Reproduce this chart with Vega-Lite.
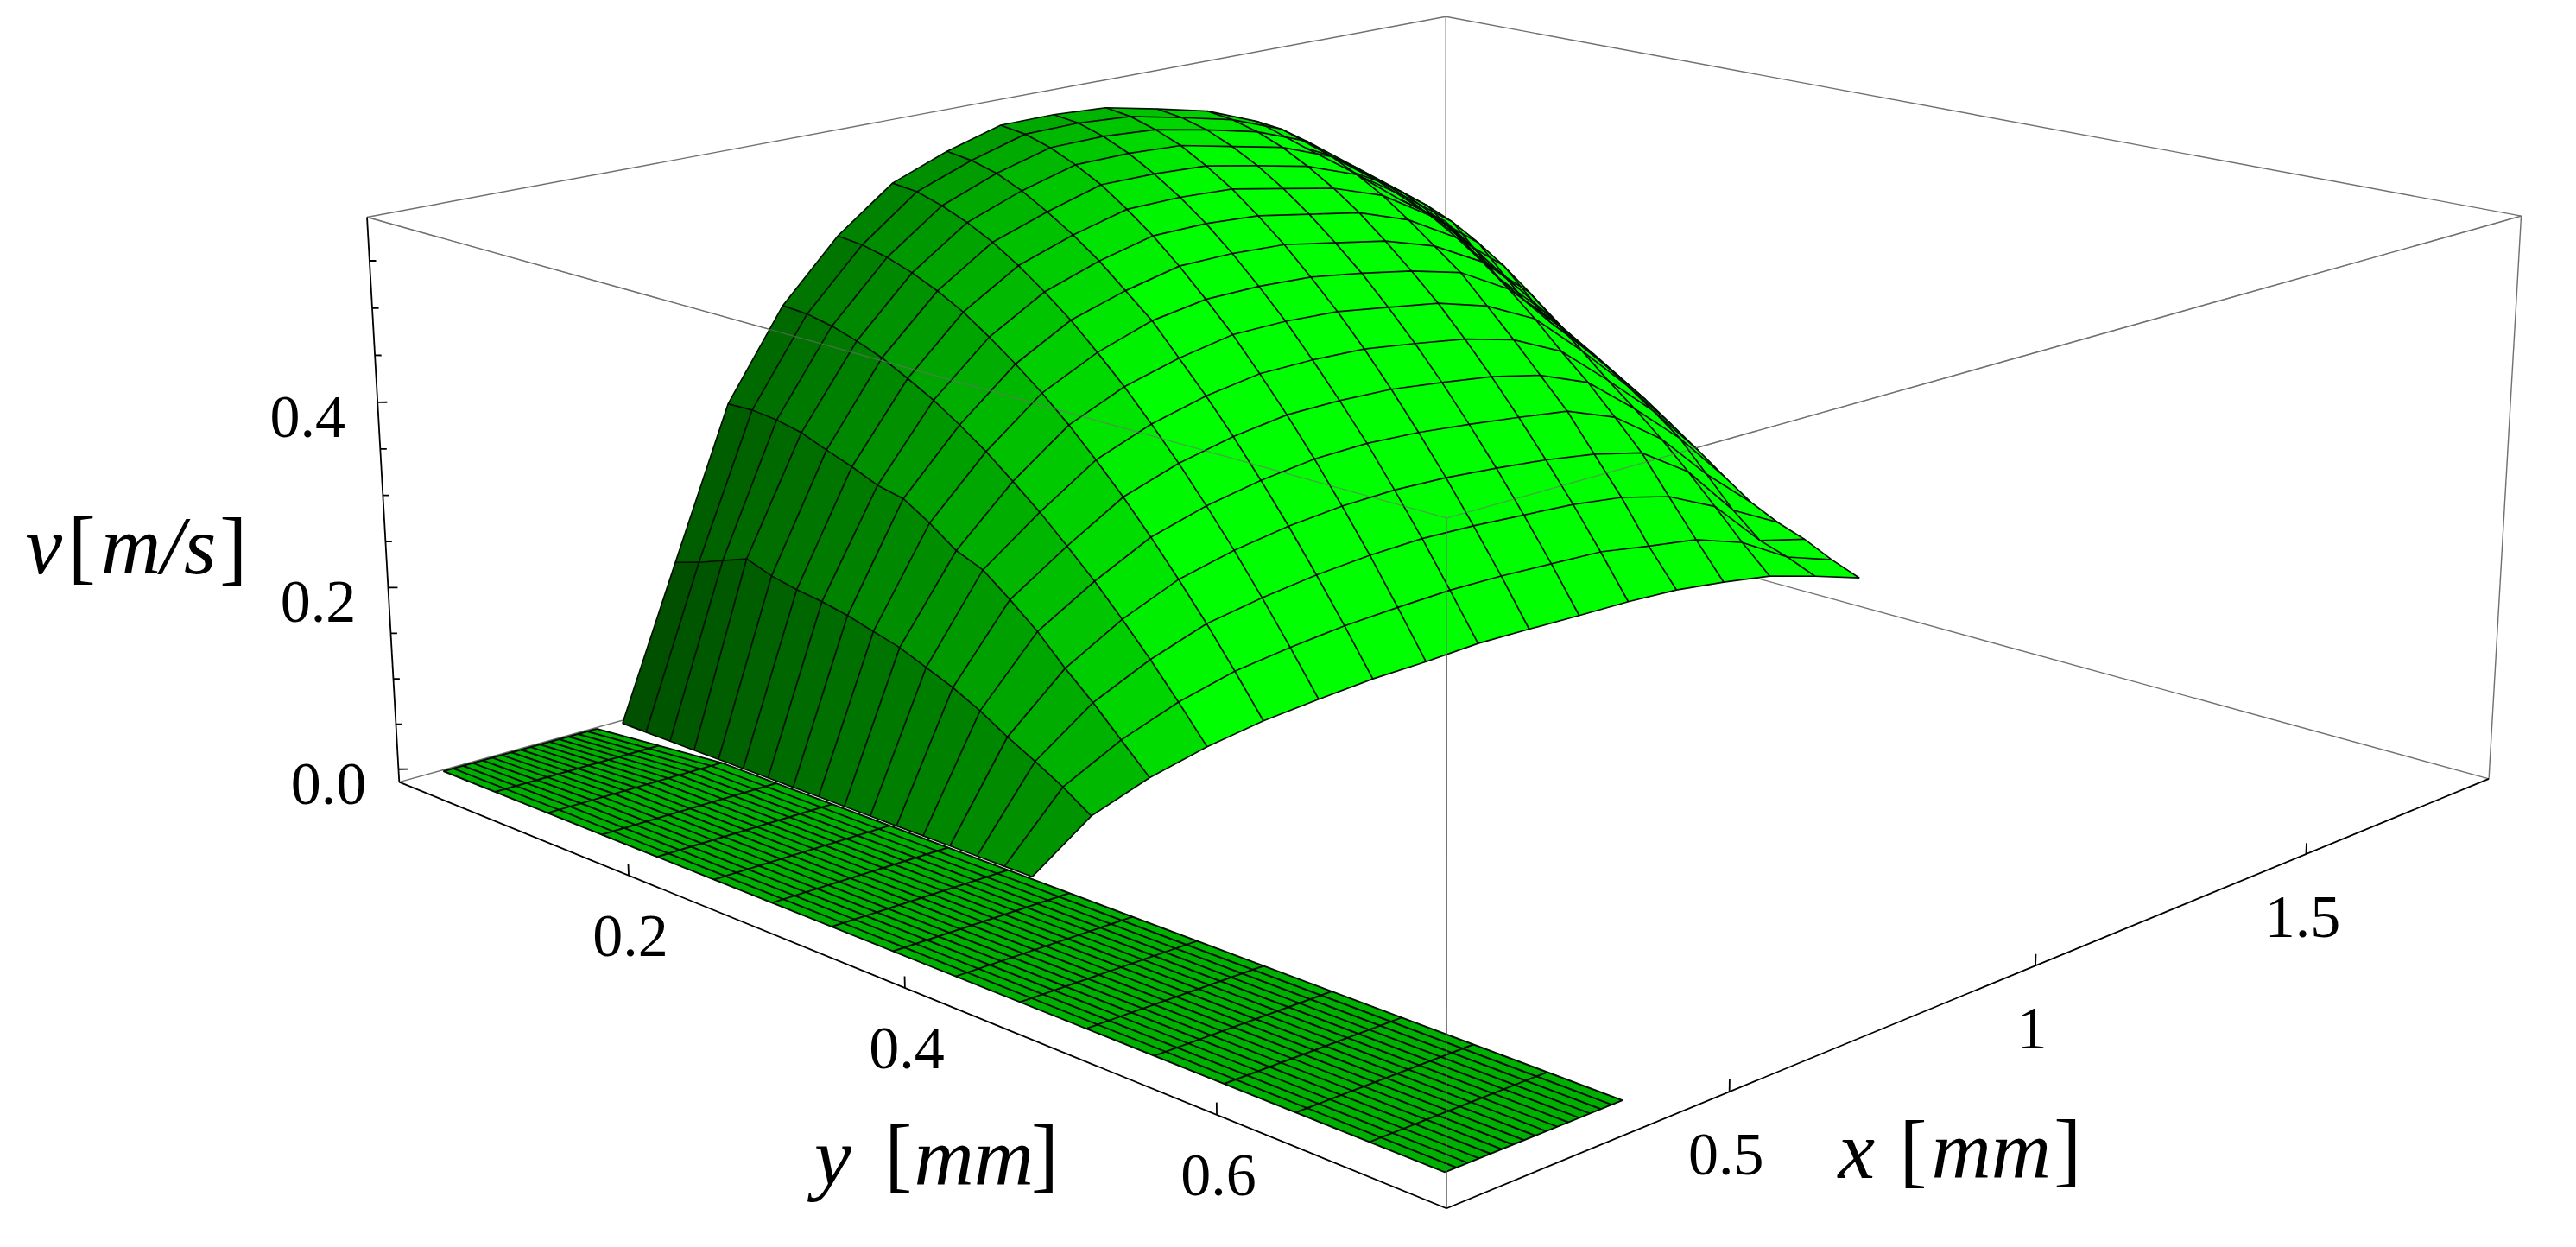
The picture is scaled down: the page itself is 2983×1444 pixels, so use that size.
{"$schema":"https://vega.github.io/schema/vega-lite/v6.json","width":2983,"height":1444,"padding":0,"autosize":{"type":"fit","contains":"padding"},"background":"white","config":{"view":{"stroke":null}},
"data":{"values":[
{"g":"fb","l":"1","x":0.0894,"y":0.0144,"v":0.5958},{"g":"fb","l":"1","x":1.874,"y":0.0144,"v":0.5958},
{"g":"fb","l":"2","x":1.874,"y":0.0144,"v":0.5958},{"g":"fb","l":"2","x":1.874,"y":0.7325,"v":0.5958},
{"g":"fb","l":"3","x":1.874,"y":0.0144,"v":0.5958},{"g":"fb","l":"3","x":1.874,"y":0.0144,"v":-0.0143},
{"g":"fb","l":"4","x":0.0894,"y":0.0144,"v":-0.0143},{"g":"fb","l":"4","x":1.874,"y":0.0144,"v":-0.0143},
{"g":"fb","l":"5","x":1.874,"y":0.0144,"v":-0.0143},{"g":"fb","l":"5","x":1.874,"y":0.7325,"v":-0.0143},
{"g":"fb","l":"6","x":1.874,"y":0.7325,"v":0.5958},{"g":"fb","l":"6","x":1.874,"y":0.7325,"v":-0.0143},
{"g":"fo","l":"7","x":0.0894,"y":0.0144,"v":0.5958},{"g":"fo","l":"7","x":0.0894,"y":0.7325,"v":0.5958},
{"g":"fo","l":"8","x":0.0894,"y":0.7325,"v":0.5958},{"g":"fo","l":"8","x":1.874,"y":0.7325,"v":0.5958},
{"g":"fo","l":"9","x":0.0894,"y":0.7325,"v":0.5958},{"g":"fo","l":"9","x":0.0894,"y":0.7325,"v":-0.0143},
{"g":"ax","l":"a1","x":0.0894,"y":0.0144,"v":-0.0143},{"g":"ax","l":"a1","x":0.0894,"y":0.0144,"v":0.5958},
{"g":"ax","l":"a2","x":0.0894,"y":0.0144,"v":-0.0143},{"g":"ax","l":"a2","x":0.0894,"y":0.7325,"v":-0.0143},
{"g":"ax","l":"a3","x":0.0894,"y":0.7325,"v":-0.0143},{"g":"ax","l":"a3","x":1.874,"y":0.7325,"v":-0.0143},
{"g":"ax","l":"y2","x":0.0894,"y":0.2,"v":-0.0143},{"g":"ax","l":"y2","x":0.0894,"y":0.2,"v":-0.0025},
{"g":"ax","l":"y4","x":0.0894,"y":0.4,"v":-0.0143},{"g":"ax","l":"y4","x":0.0894,"y":0.4,"v":-0.0025},
{"g":"ax","l":"y6","x":0.0894,"y":0.6,"v":-0.0143},{"g":"ax","l":"y6","x":0.0894,"y":0.6,"v":-0.0025},
{"g":"ax","l":"x5","x":0.5,"y":0.7325,"v":-0.0143},{"g":"ax","l":"x5","x":0.5,"y":0.7325,"v":-0.0025},
{"g":"ax","l":"x10","x":1,"y":0.7325,"v":-0.0143},{"g":"ax","l":"x10","x":1,"y":0.7325,"v":-0.0025},
{"g":"ax","l":"x15","x":1.5,"y":0.7325,"v":-0.0143},{"g":"ax","l":"x15","x":1.5,"y":0.7325,"v":-0.0025},
{"g":"ax","l":"v0","x":0.0894,"y":0.0144,"v":0},{"g":"ax","l":"v0","x":0.0974,"y":0.0176,"v":0},
{"g":"ax","l":"v05","x":0.0894,"y":0.0144,"v":0.05},{"g":"ax","l":"v05","x":0.0948,"y":0.0166,"v":0.05},
{"g":"ax","l":"v10","x":0.0894,"y":0.0144,"v":0.1},{"g":"ax","l":"v10","x":0.0948,"y":0.0166,"v":0.1},
{"g":"ax","l":"v15","x":0.0894,"y":0.0144,"v":0.15},{"g":"ax","l":"v15","x":0.0948,"y":0.0166,"v":0.15},
{"g":"ax","l":"v20","x":0.0894,"y":0.0144,"v":0.2},{"g":"ax","l":"v20","x":0.0974,"y":0.0176,"v":0.2},
{"g":"ax","l":"v25","x":0.0894,"y":0.0144,"v":0.25},{"g":"ax","l":"v25","x":0.0948,"y":0.0166,"v":0.25},
{"g":"ax","l":"v30","x":0.0894,"y":0.0144,"v":0.3},{"g":"ax","l":"v30","x":0.0948,"y":0.0166,"v":0.3},
{"g":"ax","l":"v35","x":0.0894,"y":0.0144,"v":0.35},{"g":"ax","l":"v35","x":0.0948,"y":0.0166,"v":0.35},
{"g":"ax","l":"v40","x":0.0894,"y":0.0144,"v":0.4},{"g":"ax","l":"v40","x":0.0974,"y":0.0176,"v":0.4},
{"g":"ax","l":"v45","x":0.0894,"y":0.0144,"v":0.45},{"g":"ax","l":"v45","x":0.0948,"y":0.0166,"v":0.45},
{"g":"ax","l":"v50","x":0.0894,"y":0.0144,"v":0.5},{"g":"ax","l":"v50","x":0.0948,"y":0.0166,"v":0.5},
{"g":"ax","l":"v55","x":0.0894,"y":0.0144,"v":0.55},{"g":"ax","l":"v55","x":0.0948,"y":0.0166,"v":0.55},
{"g":"lx","t":"0.5","x":0.5,"y":0.7325,"v":-0.0143},{"g":"lx","t":"1","x":1,"y":0.7325,"v":-0.0143},{"g":"lx","t":"1.5","x":1.5,"y":0.7325,"v":-0.0143},
{"g":"ly","t":"0.2","x":0.0894,"y":0.2,"v":-0.0143},{"g":"ly","t":"0.4","x":0.0894,"y":0.4,"v":-0.0143},{"g":"ly","t":"0.6","x":0.0894,"y":0.6,"v":-0.0143},
{"g":"lv","t":"0.0","x":0.0894,"y":0.0144,"v":0},{"g":"lv","t":"0.2","x":0.0894,"y":0.0144,"v":0.2},{"g":"lv","t":"0.4","x":0.0894,"y":0.0144,"v":0.4},
{"g":"ti","t":"y","x":-0.2558,"y":0.5249,"v":-0.0143},{"g":"tu","t":"[","x":-0.2049,"y":0.5409,"v":-0.0143},{"g":"ti","t":"mm","x":-0.1573,"y":0.5649,"v":-0.0143},{"g":"tu","t":"]","x":-0.1026,"y":0.5826,"v":-0.0143},
{"g":"ti","t":"x","x":0.4713,"y":0.8113,"v":-0.0143},{"g":"tu","t":"[","x":0.5142,"y":0.8264,"v":-0.0143},{"g":"ti","t":"mm","x":0.5657,"y":0.8497,"v":-0.0143},{"g":"tu","t":"]","x":0.6229,"y":0.8703,"v":-0.0143},
{"g":"ti","t":"v","x":0.3023,"y":-0.4618,"v":-0.0143},{"g":"tu","t":"[","x":0.3393,"y":-0.4468,"v":-0.0143},{"g":"ti","t":"m/s","x":0.4146,"y":-0.4164,"v":-0.0143},{"g":"tu","t":"]","x":0.4874,"y":-0.3866,"v":-0.0143},
{"g":"sp","o":0,"x":0.1233,"y":0.0323,"v":0},{"g":"sp","o":1,"x":0.348,"y":0.0323,"v":0},{"g":"sp","o":2,"x":0.3776,"y":0.118,"v":0},{"g":"sp","o":3,"x":0.3776,"y":0.718,"v":0},{"g":"sp","o":4,"x":0.1233,"y":0.718,"v":0},
{"g":"sl","l":"a0","x":0.1233,"y":0.0323,"v":0},{"g":"sl","l":"a0","x":0.1233,"y":0.118,"v":0},{"g":"sl","l":"a0","x":0.1233,"y":0.718,"v":0},
{"g":"sl","l":"a1","x":0.1373,"y":0.0323,"v":0},{"g":"sl","l":"a1","x":0.1392,"y":0.118,"v":0},{"g":"sl","l":"a1","x":0.1392,"y":0.718,"v":0},
{"g":"sl","l":"a2","x":0.1514,"y":0.0323,"v":0},{"g":"sl","l":"a2","x":0.1551,"y":0.118,"v":0},{"g":"sl","l":"a2","x":0.1551,"y":0.718,"v":0},
{"g":"sl","l":"a3","x":0.1654,"y":0.0323,"v":0},{"g":"sl","l":"a3","x":0.171,"y":0.118,"v":0},{"g":"sl","l":"a3","x":0.171,"y":0.718,"v":0},
{"g":"sl","l":"a4","x":0.1795,"y":0.0323,"v":0},{"g":"sl","l":"a4","x":0.1869,"y":0.118,"v":0},{"g":"sl","l":"a4","x":0.1869,"y":0.718,"v":0},
{"g":"sl","l":"a5","x":0.1935,"y":0.0323,"v":0},{"g":"sl","l":"a5","x":0.2028,"y":0.118,"v":0},{"g":"sl","l":"a5","x":0.2028,"y":0.718,"v":0},
{"g":"sl","l":"a6","x":0.2075,"y":0.0323,"v":0},{"g":"sl","l":"a6","x":0.2187,"y":0.118,"v":0},{"g":"sl","l":"a6","x":0.2187,"y":0.718,"v":0},
{"g":"sl","l":"a7","x":0.2216,"y":0.0323,"v":0},{"g":"sl","l":"a7","x":0.2346,"y":0.118,"v":0},{"g":"sl","l":"a7","x":0.2346,"y":0.718,"v":0},
{"g":"sl","l":"a8","x":0.2356,"y":0.0323,"v":0},{"g":"sl","l":"a8","x":0.2505,"y":0.118,"v":0},{"g":"sl","l":"a8","x":0.2505,"y":0.718,"v":0},
{"g":"sl","l":"a9","x":0.2497,"y":0.0323,"v":0},{"g":"sl","l":"a9","x":0.2664,"y":0.118,"v":0},{"g":"sl","l":"a9","x":0.2664,"y":0.718,"v":0},
{"g":"sl","l":"a10","x":0.2637,"y":0.0323,"v":0},{"g":"sl","l":"a10","x":0.2823,"y":0.118,"v":0},{"g":"sl","l":"a10","x":0.2823,"y":0.718,"v":0},
{"g":"sl","l":"a11","x":0.2777,"y":0.0323,"v":0},{"g":"sl","l":"a11","x":0.2982,"y":0.118,"v":0},{"g":"sl","l":"a11","x":0.2982,"y":0.718,"v":0},
{"g":"sl","l":"a12","x":0.2918,"y":0.0323,"v":0},{"g":"sl","l":"a12","x":0.3141,"y":0.118,"v":0},{"g":"sl","l":"a12","x":0.3141,"y":0.718,"v":0},
{"g":"sl","l":"a13","x":0.3058,"y":0.0323,"v":0},{"g":"sl","l":"a13","x":0.33,"y":0.118,"v":0},{"g":"sl","l":"a13","x":0.33,"y":0.718,"v":0},
{"g":"sl","l":"a14","x":0.3199,"y":0.0323,"v":0},{"g":"sl","l":"a14","x":0.3459,"y":0.118,"v":0},{"g":"sl","l":"a14","x":0.3459,"y":0.718,"v":0},
{"g":"sl","l":"a15","x":0.3339,"y":0.0323,"v":0},{"g":"sl","l":"a15","x":0.3618,"y":0.118,"v":0},{"g":"sl","l":"a15","x":0.3618,"y":0.718,"v":0},
{"g":"sl","l":"a16","x":0.348,"y":0.0323,"v":0},{"g":"sl","l":"a16","x":0.3776,"y":0.118,"v":0},{"g":"sl","l":"a16","x":0.3776,"y":0.718,"v":0},
{"g":"sl","l":"b0","x":0.1233,"y":0.0323,"v":0},{"g":"sl","l":"b0","x":0.348,"y":0.0323,"v":0},
{"g":"sl","l":"b1","x":0.1233,"y":0.0752,"v":0},{"g":"sl","l":"b1","x":0.3628,"y":0.0752,"v":0},
{"g":"sl","l":"b2","x":0.1233,"y":0.118,"v":0},{"g":"sl","l":"b2","x":0.3776,"y":0.118,"v":0},
{"g":"sl","l":"b3","x":0.1233,"y":0.1609,"v":0},{"g":"sl","l":"b3","x":0.3776,"y":0.1609,"v":0},
{"g":"sl","l":"b4","x":0.1233,"y":0.2038,"v":0},{"g":"sl","l":"b4","x":0.3776,"y":0.2038,"v":0},
{"g":"sl","l":"b5","x":0.1233,"y":0.2467,"v":0},{"g":"sl","l":"b5","x":0.3776,"y":0.2467,"v":0},
{"g":"sl","l":"b6","x":0.1233,"y":0.2895,"v":0},{"g":"sl","l":"b6","x":0.3776,"y":0.2895,"v":0},
{"g":"sl","l":"b7","x":0.1233,"y":0.3324,"v":0},{"g":"sl","l":"b7","x":0.3776,"y":0.3324,"v":0},
{"g":"sl","l":"b8","x":0.1233,"y":0.3753,"v":0},{"g":"sl","l":"b8","x":0.3776,"y":0.3753,"v":0},
{"g":"sl","l":"b9","x":0.1233,"y":0.4182,"v":0},{"g":"sl","l":"b9","x":0.3776,"y":0.4182,"v":0},
{"g":"sl","l":"b10","x":0.1233,"y":0.461,"v":0},{"g":"sl","l":"b10","x":0.3776,"y":0.461,"v":0},
{"g":"sl","l":"b11","x":0.1233,"y":0.5039,"v":0},{"g":"sl","l":"b11","x":0.3776,"y":0.5039,"v":0},
{"g":"sl","l":"b12","x":0.1233,"y":0.5468,"v":0},{"g":"sl","l":"b12","x":0.3776,"y":0.5468,"v":0},
{"g":"sl","l":"b13","x":0.1233,"y":0.5897,"v":0},{"g":"sl","l":"b13","x":0.3776,"y":0.5897,"v":0},
{"g":"sl","l":"b14","x":0.1233,"y":0.6325,"v":0},{"g":"sl","l":"b14","x":0.3776,"y":0.6325,"v":0},
{"g":"sl","l":"b15","x":0.1233,"y":0.6754,"v":0},{"g":"sl","l":"b15","x":0.3776,"y":0.6754,"v":0},
{"g":"sl","l":"b16","x":0.1233,"y":0.718,"v":0},{"g":"sl","l":"b16","x":0.3776,"y":0.718,"v":0},
{"g":"h","x":1.823,"y":0.0345,"v":0.352},{"g":"h","x":1.823,"y":0.054,"v":0.33},{"g":"h","x":1.823,"y":0.0736,"v":0.308},{"g":"h","x":1.823,"y":0.0931,"v":0.288},{"g":"h","x":1.823,"y":0.1126,"v":0.267},{"g":"h","x":1.823,"y":0.1322,"v":0.247},{"g":"h","x":1.823,"y":0.1517,"v":0.228},{"g":"h","x":1.823,"y":0.1712,"v":0.208},{"g":"h","x":1.823,"y":0.1907,"v":0.188},{"g":"h","x":1.823,"y":0.2103,"v":0.165},{"g":"h","x":1.823,"y":0.2298,"v":0.142},{"g":"h","x":1.823,"y":0.2493,"v":0.118},{"g":"h","x":1.823,"y":0.2689,"v":0.095},{"g":"h","x":1.823,"y":0.2884,"v":0.079},{"g":"h","x":1.823,"y":0.3079,"v":0.067},{"g":"h","x":1.823,"y":0.3274,"v":0.051},{"g":"h","x":1.823,"y":0.347,"v":0.038},
{"g":"h","x":1.733,"y":0.0345,"v":0.392},{"g":"h","x":1.733,"y":0.054,"v":0.384},{"g":"h","x":1.733,"y":0.0736,"v":0.372},{"g":"h","x":1.733,"y":0.0931,"v":0.347},{"g":"h","x":1.733,"y":0.1126,"v":0.322},{"g":"h","x":1.733,"y":0.1322,"v":0.302},{"g":"h","x":1.733,"y":0.1517,"v":0.283},{"g":"h","x":1.733,"y":0.1712,"v":0.267},{"g":"h","x":1.733,"y":0.1907,"v":0.25},{"g":"h","x":1.733,"y":0.2103,"v":0.228},{"g":"h","x":1.733,"y":0.2298,"v":0.205},{"g":"h","x":1.733,"y":0.2493,"v":0.18},{"g":"h","x":1.733,"y":0.2689,"v":0.145},{"g":"h","x":1.733,"y":0.2884,"v":0.11},{"g":"h","x":1.733,"y":0.3079,"v":0.082},{"g":"h","x":1.733,"y":0.3274,"v":0.071},{"g":"h","x":1.733,"y":0.347,"v":0.057},
{"g":"h","x":1.643,"y":0.0345,"v":0.438},{"g":"h","x":1.643,"y":0.054,"v":0.434},{"g":"h","x":1.643,"y":0.0736,"v":0.427},{"g":"h","x":1.643,"y":0.0931,"v":0.417},{"g":"h","x":1.643,"y":0.1126,"v":0.404},{"g":"h","x":1.643,"y":0.1322,"v":0.386},{"g":"h","x":1.643,"y":0.1517,"v":0.365},{"g":"h","x":1.643,"y":0.1712,"v":0.34},{"g":"h","x":1.643,"y":0.1907,"v":0.312},{"g":"h","x":1.643,"y":0.2103,"v":0.285},{"g":"h","x":1.643,"y":0.2298,"v":0.257},{"g":"h","x":1.643,"y":0.2493,"v":0.231},{"g":"h","x":1.643,"y":0.2689,"v":0.203},{"g":"h","x":1.643,"y":0.2884,"v":0.172},{"g":"h","x":1.643,"y":0.3079,"v":0.139},{"g":"h","x":1.643,"y":0.3274,"v":0.105},{"g":"h","x":1.643,"y":0.347,"v":0.074},
{"g":"h","x":1.553,"y":0.0345,"v":0.48},{"g":"h","x":1.553,"y":0.054,"v":0.477},{"g":"h","x":1.553,"y":0.0736,"v":0.47},{"g":"h","x":1.553,"y":0.0931,"v":0.46},{"g":"h","x":1.553,"y":0.1126,"v":0.447},{"g":"h","x":1.553,"y":0.1322,"v":0.431},{"g":"h","x":1.553,"y":0.1517,"v":0.412},{"g":"h","x":1.553,"y":0.1712,"v":0.39},{"g":"h","x":1.553,"y":0.1907,"v":0.365},{"g":"h","x":1.553,"y":0.2103,"v":0.337},{"g":"h","x":1.553,"y":0.2298,"v":0.306},{"g":"h","x":1.553,"y":0.2493,"v":0.277},{"g":"h","x":1.553,"y":0.2689,"v":0.244},{"g":"h","x":1.553,"y":0.2884,"v":0.21},{"g":"h","x":1.553,"y":0.3079,"v":0.167},{"g":"h","x":1.553,"y":0.3274,"v":0.125},{"g":"h","x":1.553,"y":0.347,"v":0.084},
{"g":"h","x":1.463,"y":0.0345,"v":0.524},{"g":"h","x":1.463,"y":0.054,"v":0.521},{"g":"h","x":1.463,"y":0.0736,"v":0.513},{"g":"h","x":1.463,"y":0.0931,"v":0.501},{"g":"h","x":1.463,"y":0.1126,"v":0.486},{"g":"h","x":1.463,"y":0.1322,"v":0.468},{"g":"h","x":1.463,"y":0.1517,"v":0.446},{"g":"h","x":1.463,"y":0.1712,"v":0.422},{"g":"h","x":1.463,"y":0.1907,"v":0.398},{"g":"h","x":1.463,"y":0.2103,"v":0.366},{"g":"h","x":1.463,"y":0.2298,"v":0.334},{"g":"h","x":1.463,"y":0.2493,"v":0.3},{"g":"h","x":1.463,"y":0.2689,"v":0.266},{"g":"h","x":1.463,"y":0.2884,"v":0.224},{"g":"h","x":1.463,"y":0.3079,"v":0.182},{"g":"h","x":1.463,"y":0.3274,"v":0.134},{"g":"h","x":1.463,"y":0.347,"v":0.092},
{"g":"h","x":1.373,"y":0.0345,"v":0.548},{"g":"h","x":1.373,"y":0.054,"v":0.544},{"g":"h","x":1.373,"y":0.0736,"v":0.536},{"g":"h","x":1.373,"y":0.0931,"v":0.524},{"g":"h","x":1.373,"y":0.1126,"v":0.508},{"g":"h","x":1.373,"y":0.1322,"v":0.489},{"g":"h","x":1.373,"y":0.1517,"v":0.467},{"g":"h","x":1.373,"y":0.1712,"v":0.441},{"g":"h","x":1.373,"y":0.1907,"v":0.413},{"g":"h","x":1.373,"y":0.2103,"v":0.383},{"g":"h","x":1.373,"y":0.2298,"v":0.349},{"g":"h","x":1.373,"y":0.2493,"v":0.313},{"g":"h","x":1.373,"y":0.2689,"v":0.274},{"g":"h","x":1.373,"y":0.2884,"v":0.233},{"g":"h","x":1.373,"y":0.3079,"v":0.19},{"g":"h","x":1.373,"y":0.3274,"v":0.144},{"g":"h","x":1.373,"y":0.347,"v":0.0955},
{"g":"h","x":1.283,"y":0.0345,"v":0.562},{"g":"h","x":1.283,"y":0.054,"v":0.558},{"g":"h","x":1.283,"y":0.0736,"v":0.55},{"g":"h","x":1.283,"y":0.0931,"v":0.537},{"g":"h","x":1.283,"y":0.1126,"v":0.521},{"g":"h","x":1.283,"y":0.1322,"v":0.501},{"g":"h","x":1.283,"y":0.1517,"v":0.478},{"g":"h","x":1.283,"y":0.1712,"v":0.452},{"g":"h","x":1.283,"y":0.1907,"v":0.424},{"g":"h","x":1.283,"y":0.2103,"v":0.392},{"g":"h","x":1.283,"y":0.2298,"v":0.358},{"g":"h","x":1.283,"y":0.2493,"v":0.321},{"g":"h","x":1.283,"y":0.2689,"v":0.281},{"g":"h","x":1.283,"y":0.2884,"v":0.239},{"g":"h","x":1.283,"y":0.3079,"v":0.194},{"g":"h","x":1.283,"y":0.3274,"v":0.147},{"g":"h","x":1.283,"y":0.347,"v":0.097},
{"g":"h","x":1.193,"y":0.0345,"v":0.575},{"g":"h","x":1.193,"y":0.054,"v":0.571},{"g":"h","x":1.193,"y":0.0736,"v":0.562},{"g":"h","x":1.193,"y":0.0931,"v":0.55},{"g":"h","x":1.193,"y":0.1126,"v":0.533},{"g":"h","x":1.193,"y":0.1322,"v":0.513},{"g":"h","x":1.193,"y":0.1517,"v":0.489},{"g":"h","x":1.193,"y":0.1712,"v":0.463},{"g":"h","x":1.193,"y":0.1907,"v":0.433},{"g":"h","x":1.193,"y":0.2103,"v":0.401},{"g":"h","x":1.193,"y":0.2298,"v":0.366},{"g":"h","x":1.193,"y":0.2493,"v":0.328},{"g":"h","x":1.193,"y":0.2689,"v":0.287},{"g":"h","x":1.193,"y":0.2884,"v":0.244},{"g":"h","x":1.193,"y":0.3079,"v":0.198},{"g":"h","x":1.193,"y":0.3274,"v":0.15},{"g":"h","x":1.193,"y":0.347,"v":0.099},
{"g":"h","x":1.103,"y":0.0345,"v":0.5785},{"g":"h","x":1.103,"y":0.054,"v":0.575},{"g":"h","x":1.103,"y":0.0736,"v":0.566},{"g":"h","x":1.103,"y":0.0931,"v":0.553},{"g":"h","x":1.103,"y":0.1126,"v":0.536},{"g":"h","x":1.103,"y":0.1322,"v":0.516},{"g":"h","x":1.103,"y":0.1517,"v":0.493},{"g":"h","x":1.103,"y":0.1712,"v":0.466},{"g":"h","x":1.103,"y":0.1907,"v":0.436},{"g":"h","x":1.103,"y":0.2103,"v":0.404},{"g":"h","x":1.103,"y":0.2298,"v":0.368},{"g":"h","x":1.103,"y":0.2493,"v":0.33},{"g":"h","x":1.103,"y":0.2689,"v":0.29},{"g":"h","x":1.103,"y":0.2884,"v":0.246},{"g":"h","x":1.103,"y":0.3079,"v":0.2},{"g":"h","x":1.103,"y":0.3274,"v":0.151},{"g":"h","x":1.103,"y":0.347,"v":0.1005},
{"g":"h","x":1.013,"y":0.0345,"v":0.578},{"g":"h","x":1.013,"y":0.054,"v":0.574},{"g":"h","x":1.013,"y":0.0736,"v":0.565},{"g":"h","x":1.013,"y":0.0931,"v":0.552},{"g":"h","x":1.013,"y":0.1126,"v":0.536},{"g":"h","x":1.013,"y":0.1322,"v":0.515},{"g":"h","x":1.013,"y":0.1517,"v":0.492},{"g":"h","x":1.013,"y":0.1712,"v":0.465},{"g":"h","x":1.013,"y":0.1907,"v":0.435},{"g":"h","x":1.013,"y":0.2103,"v":0.403},{"g":"h","x":1.013,"y":0.2298,"v":0.367},{"g":"h","x":1.013,"y":0.2493,"v":0.329},{"g":"h","x":1.013,"y":0.2689,"v":0.288},{"g":"h","x":1.013,"y":0.2884,"v":0.244},{"g":"h","x":1.013,"y":0.3079,"v":0.198},{"g":"h","x":1.013,"y":0.3274,"v":0.149},{"g":"h","x":1.013,"y":0.347,"v":0.098},
{"g":"h","x":0.923,"y":0.0345,"v":0.56},{"g":"h","x":0.923,"y":0.054,"v":0.556},{"g":"h","x":0.923,"y":0.0736,"v":0.548},{"g":"h","x":0.923,"y":0.0931,"v":0.535},{"g":"h","x":0.923,"y":0.1126,"v":0.518},{"g":"h","x":0.923,"y":0.1322,"v":0.499},{"g":"h","x":0.923,"y":0.1517,"v":0.477},{"g":"h","x":0.923,"y":0.1712,"v":0.451},{"g":"h","x":0.923,"y":0.1907,"v":0.425},{"g":"h","x":0.923,"y":0.2103,"v":0.391},{"g":"h","x":0.923,"y":0.2298,"v":0.357},{"g":"h","x":0.923,"y":0.2493,"v":0.32},{"g":"h","x":0.923,"y":0.2689,"v":0.28},{"g":"h","x":0.923,"y":0.2884,"v":0.238},{"g":"h","x":0.923,"y":0.3079,"v":0.193},{"g":"h","x":0.923,"y":0.3274,"v":0.146},{"g":"h","x":0.923,"y":0.347,"v":0.097},
{"g":"h","x":0.833,"y":0.0345,"v":0.536},{"g":"h","x":0.833,"y":0.054,"v":0.533},{"g":"h","x":0.833,"y":0.0736,"v":0.524},{"g":"h","x":0.833,"y":0.0931,"v":0.512},{"g":"h","x":0.833,"y":0.1126,"v":0.497},{"g":"h","x":0.833,"y":0.1322,"v":0.478},{"g":"h","x":0.833,"y":0.1517,"v":0.456},{"g":"h","x":0.833,"y":0.1712,"v":0.432},{"g":"h","x":0.833,"y":0.1907,"v":0.404},{"g":"h","x":0.833,"y":0.2103,"v":0.374},{"g":"h","x":0.833,"y":0.2298,"v":0.341},{"g":"h","x":0.833,"y":0.2493,"v":0.306},{"g":"h","x":0.833,"y":0.2689,"v":0.268},{"g":"h","x":0.833,"y":0.2884,"v":0.228},{"g":"h","x":0.833,"y":0.3079,"v":0.185},{"g":"h","x":0.833,"y":0.3274,"v":0.14},{"g":"h","x":0.833,"y":0.347,"v":0.093},
{"g":"h","x":0.743,"y":0.0345,"v":0.489},{"g":"h","x":0.743,"y":0.054,"v":0.486},{"g":"h","x":0.743,"y":0.0736,"v":0.479},{"g":"h","x":0.743,"y":0.0931,"v":0.469},{"g":"h","x":0.743,"y":0.1126,"v":0.456},{"g":"h","x":0.743,"y":0.1322,"v":0.44},{"g":"h","x":0.743,"y":0.1517,"v":0.42},{"g":"h","x":0.743,"y":0.1712,"v":0.398},{"g":"h","x":0.743,"y":0.1907,"v":0.374},{"g":"h","x":0.743,"y":0.2103,"v":0.347},{"g":"h","x":0.743,"y":0.2298,"v":0.317},{"g":"h","x":0.743,"y":0.2493,"v":0.285},{"g":"h","x":0.743,"y":0.2689,"v":0.25},{"g":"h","x":0.743,"y":0.2884,"v":0.213},{"g":"h","x":0.743,"y":0.3079,"v":0.174},{"g":"h","x":0.743,"y":0.3274,"v":0.132},{"g":"h","x":0.743,"y":0.347,"v":0.088},
{"g":"h","x":0.653,"y":0.0345,"v":0.424},{"g":"h","x":0.653,"y":0.054,"v":0.422},{"g":"h","x":0.653,"y":0.0736,"v":0.416},{"g":"h","x":0.653,"y":0.0931,"v":0.407},{"g":"h","x":0.653,"y":0.1126,"v":0.396},{"g":"h","x":0.653,"y":0.1322,"v":0.381},{"g":"h","x":0.653,"y":0.1517,"v":0.365},{"g":"h","x":0.653,"y":0.1712,"v":0.346},{"g":"h","x":0.653,"y":0.1907,"v":0.325},{"g":"h","x":0.653,"y":0.2103,"v":0.301},{"g":"h","x":0.653,"y":0.2298,"v":0.276},{"g":"h","x":0.653,"y":0.2493,"v":0.248},{"g":"h","x":0.653,"y":0.2689,"v":0.219},{"g":"h","x":0.653,"y":0.2884,"v":0.187},{"g":"h","x":0.653,"y":0.3079,"v":0.153},{"g":"h","x":0.653,"y":0.3274,"v":0.117},{"g":"h","x":0.653,"y":0.347,"v":0.079},
{"g":"h","x":0.563,"y":0.0345,"v":0.328},{"g":"h","x":0.563,"y":0.054,"v":0.329},{"g":"h","x":0.563,"y":0.0736,"v":0.326},{"g":"h","x":0.563,"y":0.0931,"v":0.32},{"g":"h","x":0.563,"y":0.1126,"v":0.309},{"g":"h","x":0.563,"y":0.1322,"v":0.299},{"g":"h","x":0.563,"y":0.1517,"v":0.287},{"g":"h","x":0.563,"y":0.1712,"v":0.281},{"g":"h","x":0.563,"y":0.1907,"v":0.263},{"g":"h","x":0.563,"y":0.2103,"v":0.242},{"g":"h","x":0.563,"y":0.2298,"v":0.23},{"g":"h","x":0.563,"y":0.2493,"v":0.207},{"g":"h","x":0.563,"y":0.2689,"v":0.182},{"g":"h","x":0.563,"y":0.2884,"v":0.152},{"g":"h","x":0.563,"y":0.3079,"v":0.125},{"g":"h","x":0.563,"y":0.3274,"v":0.095},{"g":"h","x":0.563,"y":0.347,"v":0.065},
{"g":"h","x":0.473,"y":0.0345,"v":0.165},{"g":"h","x":0.473,"y":0.054,"v":0.174},{"g":"h","x":0.473,"y":0.0736,"v":0.185},{"g":"h","x":0.473,"y":0.0931,"v":0.196},{"g":"h","x":0.473,"y":0.1126,"v":0.186},{"g":"h","x":0.473,"y":0.1322,"v":0.18},{"g":"h","x":0.473,"y":0.1517,"v":0.176},{"g":"h","x":0.473,"y":0.1712,"v":0.17},{"g":"h","x":0.473,"y":0.1907,"v":0.162},{"g":"h","x":0.473,"y":0.2103,"v":0.154},{"g":"h","x":0.473,"y":0.2298,"v":0.142},{"g":"h","x":0.473,"y":0.2493,"v":0.13},{"g":"h","x":0.473,"y":0.2689,"v":0.115},{"g":"h","x":0.473,"y":0.2884,"v":0.097},{"g":"h","x":0.473,"y":0.3079,"v":0.081},{"g":"h","x":0.473,"y":0.3274,"v":0.064},{"g":"h","x":0.473,"y":0.347,"v":0.044},
{"g":"h","x":0.383,"y":0.0345,"v":0},{"g":"h","x":0.383,"y":0.054,"v":0},{"g":"h","x":0.383,"y":0.0736,"v":0},{"g":"h","x":0.383,"y":0.0931,"v":0},{"g":"h","x":0.383,"y":0.1126,"v":0},{"g":"h","x":0.383,"y":0.1322,"v":0},{"g":"h","x":0.383,"y":0.1517,"v":0},{"g":"h","x":0.383,"y":0.1712,"v":0},{"g":"h","x":0.383,"y":0.1907,"v":0},{"g":"h","x":0.383,"y":0.2103,"v":0},{"g":"h","x":0.383,"y":0.2298,"v":0},{"g":"h","x":0.383,"y":0.2493,"v":0},{"g":"h","x":0.383,"y":0.2689,"v":0},{"g":"h","x":0.383,"y":0.2884,"v":0},{"g":"h","x":0.383,"y":0.3079,"v":0},{"g":"h","x":0.383,"y":0.3274,"v":0},{"g":"h","x":0.383,"y":0.347,"v":0}
]},
"transform":[
{"calculate":"(datum.x-0.0894)*0.5603","as":"a"},
{"calculate":"(datum.y-0.0144)*1.3925","as":"b"},
{"calculate":"datum.v*1.639+0.0234","as":"c"},
{"calculate":"0.1986*datum.a-0.1948*datum.b-0.03*datum.c+1","as":"w"},
{"calculate":"(811.8*datum.a+466*datum.b-26.3*datum.c+243)/datum.w","as":"sx"},
{"calculate":"(-116.4*datum.a+116.2*datum.b-347.8*datum.c+476)/datum.w","as":"sy"}
],
"encoding":{
"x":{"field":"sx","type":"quantitative","axis":null,"scale":{"domain":[0,1568],"nice":false,"zero":false}},
"y":{"field":"sy","type":"quantitative","axis":null,"scale":{"domain":[759,0],"nice":false,"zero":false}}
},
"layer":[
{"transform":[{"filter":"datum.g=='fb'||datum.g=='fo'"}],"mark":{"type":"line","color":"#707070","strokeWidth":1.4},"encoding":{"detail":{"field":"l"}}},
{"transform":[{"filter":"datum.g=='sp'"}],"mark":{"type":"line","fill":"#00b000","stroke":"transparent"},"encoding":{"order":{"field":"o","type":"quantitative"}}},
{"transform":[{"filter":"datum.g=='sl'"}],"mark":{"type":"line","color":"#001000","strokeWidth":2},"encoding":{"detail":{"field":"l"},"order":{"field":"y","type":"quantitative"}}},
{"transform":[
{"filter":"datum.g=='h'"},
{"calculate":"round((datum.x-0.383)/0.09)","as":"i"},
{"calculate":"round((datum.y-0.0345)/0.01953)","as":"j"},
{"calculate":"[datum.i,datum.i-1,datum.i-1,datum.i]","as":"ci"},
{"calculate":"[datum.j,datum.j,datum.j-1,datum.j-1]","as":"cj"},
{"calculate":"[0,1,2,3]","as":"k"},
{"flatten":["ci","cj","k"]},
{"filter":"datum.ci>=0&&datum.ci<16&&datum.cj>=0&&datum.cj<16"},
{"calculate":"datum.ci*100+datum.cj","as":"cid"},
{"calculate":"(datum.ci+0.5)/16","as":"fu"},
{"calculate":"(datum.cj+0.5)/16","as":"fw"},
{"calculate":"'rgb(0,'+round(clamp(72+190*datum.fu+60*datum.fw+400*datum.fu*datum.fw,70,255))+',0)'","as":"col"}
],
"mark":{"type":"line","stroke":"transparent"},
"encoding":{"detail":{"field":"cid"},"order":{"field":"k","type":"quantitative"},"fill":{"field":"col","type":"nominal","scale":null}}},
{"transform":[{"filter":"datum.g=='h'"}],"mark":{"type":"line","color":"#001000","strokeWidth":1.7},"encoding":{"detail":{"field":"x"},"order":{"field":"y","type":"quantitative"}}},
{"transform":[{"filter":"datum.g=='h'"}],"mark":{"type":"line","color":"#001000","strokeWidth":1.7},"encoding":{"detail":{"field":"y"},"order":{"field":"x","type":"quantitative"}}},
{"transform":[{"filter":"datum.g=='fo'"}],"mark":{"type":"line","color":"#707070","strokeWidth":1.4,"opacity":0.6},"encoding":{"detail":{"field":"l"}}},
{"transform":[{"filter":"datum.g=='ax'"}],"mark":{"type":"line","color":"#000000","strokeWidth":1.8},"encoding":{"detail":{"field":"l"}}},
{"transform":[{"filter":"datum.g=='lx'"}],"mark":{"type":"text","font":"Liberation Serif","fontSize":70,"align":"center","baseline":"middle","dx":-4,"dy":75,"color":"#000"},"encoding":{"text":{"field":"t"}}},
{"transform":[{"filter":"datum.g=='ly'"}],"mark":{"type":"text","font":"Liberation Serif","fontSize":70,"align":"center","baseline":"middle","dx":2,"dy":72,"color":"#000"},"encoding":{"text":{"field":"t"}}},
{"transform":[{"filter":"datum.g=='lv'"}],"mark":{"type":"text","font":"Liberation Serif","fontSize":70,"align":"center","baseline":"middle","dx":-81,"dy":19,"color":"#000"},"encoding":{"text":{"field":"t"}}},
{"transform":[{"filter":"datum.g=='ti'"}],"mark":{"type":"text","font":"Liberation Serif","fontStyle":"italic","fontSize":96,"align":"center","baseline":"middle","color":"#000"},"encoding":{"text":{"field":"t"}}},
{"transform":[{"filter":"datum.g=='tu'"}],"mark":{"type":"text","font":"Liberation Serif","fontSize":96,"align":"center","baseline":"middle","color":"#000"},"encoding":{"text":{"field":"t"}}}
]}
